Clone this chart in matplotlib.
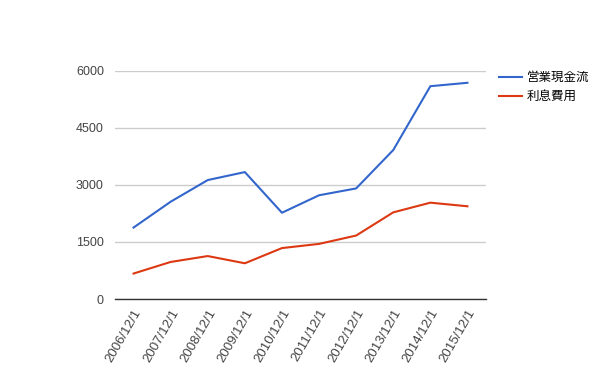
import matplotlib
matplotlib.use('Agg')
import matplotlib.pyplot as plt

plt.rcParams['font.family'] = ['Liberation Sans', 'Noto Sans CJK JP', 'DejaVu Sans']

# data
dates = ['2006/12/1', '2007/12/1', '2008/12/1', '2009/12/1', '2010/12/1',
         '2011/12/1', '2012/12/1', '2013/12/1', '2014/12/1', '2015/12/1']
operating_cf = [1880, 2560, 3130, 3340, 2270, 2730, 2910, 3920, 5600, 5690]
interest_exp = [670, 975, 1130, 940, 1340, 1450, 1670, 2280, 2535, 2440]
yticks = [0, 1500, 3000, 4500, 6000]

fig = plt.figure(figsize=(6, 3.71), dpi=100)
ax = fig.add_axes([115 / 600, 1 - 299 / 371, 371 / 600, 228 / 371])

x = list(range(len(dates)))
ax.plot(x, operating_cf, color='#3366cc', linewidth=1.5, label='営業現金流')
ax.plot(x, interest_exp, color='#dc3912', linewidth=1.5, label='利息費用')

ax.set_xlim(-0.5, len(dates) - 0.5)
ax.set_ylim(0, 6000)
ax.set_yticks(yticks)
ax.set_yticklabels([str(v) for v in yticks], color='#444444', fontsize=9)
ax.set_xticks(x)
ax.set_xticklabels(dates, rotation=60, ha='right', rotation_mode='anchor',
                   color='#444444', fontsize=9.5)
ax.tick_params(length=0, pad=8)
ax.tick_params(axis='x', pad=6)

ax.grid(axis='y', color='#cccccc', linewidth=1)
ax.set_axisbelow(True)
for s in ['top', 'right', 'left']:
    ax.spines[s].set_visible(False)
ax.spines['bottom'].set_color('#333333')
ax.spines['bottom'].set_linewidth(1)
ax.spines['bottom'].set_zorder(3)

fig.legend(loc='upper left', bbox_to_anchor=(488 / 600, 1 - 60 / 371),
           frameon=False, handlelength=1.8, handletextpad=0.4,
           labelspacing=0.45, prop={'family': ['Noto Sans CJK JP'], 'size': 9})

fig.savefig('out.png', dpi=100)
